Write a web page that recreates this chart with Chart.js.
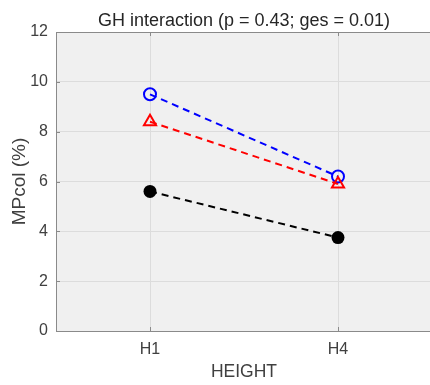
<!DOCTYPE html>
<html>
<head>
<meta charset="utf-8">
<script src="https://cdn.jsdelivr.net/npm/chart.js@4"></script>
<style>
  html, body { margin: 0; padding: 0; background: #fff; overflow: hidden; }
  #wrap { width: 432px; height: 385px; }
</style>
</head>
<body>
<div id="wrap"><canvas id="chart"></canvas></div>
<script>
// ---- data ----
const categories = ["H1", "H4"];
const blueVals   = [9.5, 6.2];
const redVals    = [8.4, 5.9];
const blackVals  = [5.6, 3.75];
const yTicks     = [0, 2, 4, 6, 8, 10, 12];

const FONT = "'Liberation Sans', Arial, Helvetica, sans-serif";
const toPoints = vals => vals.map((v, i) => ({ x: i + 1, y: v }));

// light gray plot background + inward tick marks
const plotBg = {
  id: "plotBg",
  beforeDraw(chart) {
    const { ctx, chartArea: a } = chart;
    ctx.save();
    ctx.fillStyle = "#f0f0f0";
    ctx.fillRect(a.left, a.top, a.right - a.left, a.bottom - a.top);
    ctx.restore();
  },
  afterDatasetsDraw(chart) {
    const { ctx, chartArea: a, scales } = chart;
    ctx.save();
    ctx.strokeStyle = "#8a8a8a";
    ctx.lineWidth = 1;
    ctx.beginPath();
    categories.forEach((c, i) => {
      const x = Math.round(scales.x.getPixelForValue(i + 1)) + 0.5;
      ctx.moveTo(x, a.bottom); ctx.lineTo(x, a.bottom - 4);
      ctx.moveTo(x, a.top);    ctx.lineTo(x, a.top + 4);
    });
    yTicks.forEach(t => {
      const y = Math.round(scales.y.getPixelForValue(t)) + 0.5;
      ctx.moveTo(a.left, y); ctx.lineTo(a.left + 4, y);
    });
    ctx.stroke();
    ctx.restore();
  }
};

new Chart(document.getElementById("chart"), {
  type: "line",
  data: {
    datasets: [
      {
        data: toPoints(blueVals),
        borderColor: "#0000ff",
        borderWidth: 2,
        borderDash: [7, 5],
        pointStyle: "circle",
        pointRadius: 6,
        pointBorderWidth: 2,
        pointBackgroundColor: "rgba(0,0,0,0)",
        pointBorderColor: "#0000ff",
        order: 3
      },
      {
        data: toPoints(redVals),
        borderColor: "#ff0000",
        borderWidth: 2,
        borderDash: [7, 5],
        pointStyle: "triangle",
        pointRadius: 7,
        pointBorderWidth: 2,
        pointBackgroundColor: "rgba(0,0,0,0)",
        pointBorderColor: "#ff0000",
        order: 2
      },
      {
        data: toPoints(blackVals),
        borderColor: "#000000",
        borderWidth: 2,
        borderDash: [7, 5],
        pointStyle: "circle",
        pointRadius: 6.5,
        pointBorderWidth: 0,
        pointBackgroundColor: "#000000",
        order: 1
      }
    ]
  },
  options: {
    responsive: true,
    maintainAspectRatio: false,
    animation: false,
    layout: { padding: 0, autoPadding: false },
    plugins: {
      legend: { display: false },
      tooltip: { enabled: false }
    },
    scales: {
      x: {
        type: "linear",
        min: 0.5,
        max: 2.5,
        afterBuildTicks: s => { s.ticks = categories.map((c, i) => ({ value: i + 1 })); },
        afterFit: s => { s.height = 54; },
        ticks: {
          callback: v => categories[v - 1] || "",
          color: "#404040",
          font: { family: FONT, size: 16 },
          padding: 9,
          maxRotation: 0
        },
        grid: { color: "#dcdcdc", drawTicks: false },
        border: { color: "#8a8a8a", width: 1 },
        title: {
          display: true,
          text: "HEIGHT",
          color: "#404040",
          font: { family: FONT, size: 17.5 },
          padding: { top: 0, bottom: 2 }
        }
      },
      xTop: {
        type: "linear",
        position: "top",
        min: 0.5,
        max: 2.5,
        afterFit: s => { s.height = 32; },
        ticks: { display: false },
        grid: { display: false, drawTicks: false },
        border: { color: "#8a8a8a", width: 1 },
        title: {
          display: true,
          text: "GH interaction (p = 0.43; ges = 0.01)",
          color: "#262626",
          font: { family: FONT, size: 18 },
          padding: { top: 10, bottom: 0 }
        }
      },
      y: {
        min: 0,
        max: 12,
        afterBuildTicks: s => { s.ticks = yTicks.map(v => ({ value: v })); },
        afterFit: s => { s.width = 56; },
        ticks: {
          color: "#404040",
          font: { family: FONT, size: 16 },
          padding: 8
        },
        grid: { color: "#dcdcdc", drawTicks: false },
        border: { color: "#8a8a8a", width: 1 },
        title: {
          display: true,
          text: "MPcol (%)",
          color: "#404040",
          font: { family: FONT, size: 19 },
          padding: { top: 8, bottom: 0 }
        }
      }
    }
  },
  plugins: [plotBg]
});
</script>
</body>
</html>
